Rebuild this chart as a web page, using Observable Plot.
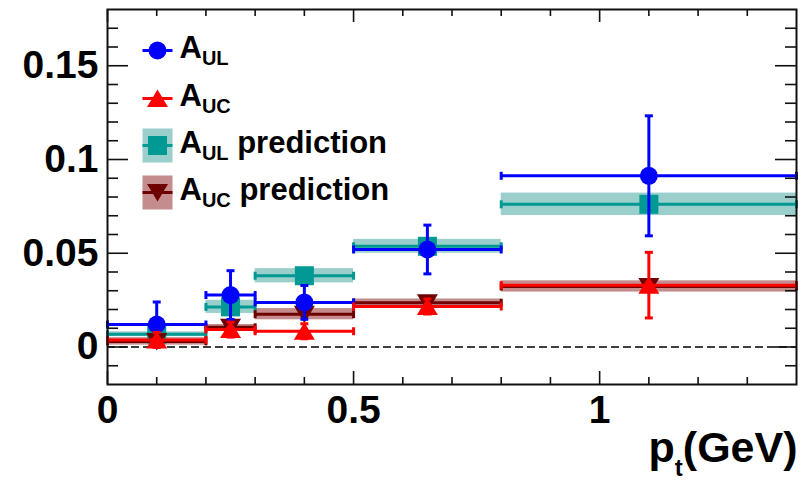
<!DOCTYPE html>
<html><head><meta charset="utf-8">
<script src="https://cdn.jsdelivr.net/npm/d3@7"></script>
<script src="https://cdn.jsdelivr.net/npm/@observablehq/plot@0.6"></script>
<style>html,body{margin:0;padding:0;background:#fff;} #chart svg{display:block}</style>
</head><body><div id="chart"></div>
<script>
// ---- data ----
const binLow    = [0, 0.2, 0.3, 0.5, 0.8];
const binHigh   = [0.2, 0.3, 0.5, 0.8, 1.4];
const binCenter = [0.1, 0.25, 0.4, 0.65, 1.1];
const aUL       = [0.012, 0.0277, 0.0238, 0.052, 0.0913];
const aULErr    = [0.012, 0.013, 0.009, 0.013, 0.032];
const aUC       = [0.0038, 0.0093, 0.0084, 0.0216, 0.033];
const aUCErr    = [0.004, 0.004, 0.004, 0.004, 0.0175];
const aULPred    = [0.0068, 0.0214, 0.038, 0.0537, 0.0761];
const aULPredErr = [0.0013, 0.0035, 0.0038, 0.0037, 0.006];
const aUCPred    = [0.003, 0.0105, 0.0175, 0.0236, 0.0323];
const aUCPredErr = [0.002, 0.0015, 0.003, 0.002, 0.003];
const legendLabels = ["A_UL", "A_UC", "A_UL prediction", "A_UC prediction"];
const xTitle = "p_t(GeV)";
const xMajorTicks = [0, 0.5, 1];
const xMinorTicks = [0.1, 0.2, 0.3, 0.4, 0.6, 0.7, 0.8, 0.9, 1.1, 1.2, 1.3];
const yMajorTicks = [0, 0.05, 0.1, 0.15];
const yMinorTicks = [-0.01, 0.01, 0.02, 0.03, 0.04, 0.06, 0.07, 0.08, 0.09, 0.11, 0.12, 0.13, 0.14, 0.16, 0.17];

const bins = binCenter.map((x, i) => ({
  x, lo: binLow[i], hi: binHigh[i],
  ul: aUL[i], ulE: aULErr[i], uc: aUC[i], ucE: aUCErr[i],
  ulp: aULPred[i], ulpE: aULPredErr[i], ucp: aUCPred[i], ucpE: aUCPredErr[i]
}));

// ---- styling ----
const W = 809, H = 482, mL = 107, mR = 13, mT = 9, mB = 98;
const fw = W - mL - mR, fh = H - mT - mB;
const BLUE = "#0000ff", RED = "#ff0000", TEAL = "#009993", TEAL_BAND = "#9acfcc",
      DRED = "#6e0000", DRED_BAND = "#c48c8c", AX = "#111";

const capV = {draw(c){ c.moveTo(0,-4); c.lineTo(0,4); }};
const capH = {draw(c){ c.moveTo(-4,0); c.lineTo(4,0); }};
const legLine = {draw(c){ c.moveTo(-15,0); c.lineTo(15,0); }};
const legBox = {draw(c){ c.rect(-15,-17,30,34); }};
const sq = {draw(c){ c.rect(-9.5,-9.5,19,19); }};
const circ = {draw(c){ c.moveTo(9,0); c.arc(0,0,9,0,2*Math.PI); }};
const triUp = {draw(c){ c.moveTo(0,-9); c.lineTo(10.5,8.5); c.lineTo(-10.5,8.5); c.closePath(); }};
const triDown = {draw(c){ c.moveTo(0,9); c.lineTo(10.5,-8.5); c.lineTo(-10.5,-8.5); c.closePath(); }};

function predBand(yk, ek, band) {
  return Plot.rect(bins, {x1: "lo", x2: "hi", y1: d => d[yk] - d[ek], y2: d => d[yk] + d[ek], fill: band});
}
function predLine(yk, line, symbol) {
  return [
    Plot.ruleY(bins, {y: yk, x1: "lo", x2: "hi", stroke: line, strokeWidth: 3}),
    Plot.dot(bins, {x: "lo", y: yk, symbol: capV, stroke: line, strokeWidth: 3, fill: "none"}),
    Plot.dot(bins, {x: "hi", y: yk, symbol: capV, stroke: line, strokeWidth: 3, fill: "none"}),
    Plot.dot(bins, {x: "x", y: yk, symbol, fill: line, stroke: "none"})
  ];
}
function dataMarks(yk, ek, color, symbol) {
  return [
    Plot.ruleY(bins, {y: yk, x1: "lo", x2: "hi", stroke: color, strokeWidth: 3}),
    Plot.dot(bins, {x: "lo", y: yk, symbol: capV, stroke: color, strokeWidth: 3, fill: "none"}),
    Plot.dot(bins, {x: "hi", y: yk, symbol: capV, stroke: color, strokeWidth: 3, fill: "none"}),
    Plot.ruleX(bins, {x: "x", y1: d => d[yk] - d[ek], y2: d => d[yk] + d[ek], stroke: color, strokeWidth: 3}),
    Plot.dot(bins, {x: "x", y: d => d[yk] - d[ek], symbol: capH, stroke: color, strokeWidth: 3, fill: "none"}),
    Plot.dot(bins, {x: "x", y: d => d[yk] + d[ek], symbol: capH, stroke: color, strokeWidth: 3, fill: "none"}),
    Plot.dot(bins, {x: "x", y: yk, symbol, fill: color, stroke: "none"})
  ];
}

const legX = 50;                  // marker centre offset from frame left
const legY = [41, 89, 136, 183];  // marker centre offsets from frame top

const chart = Plot.plot({
  width: W, height: H,
  marginLeft: mL, marginRight: mR, marginTop: mT, marginBottom: mB,
  style: {fontFamily: "'Liberation Sans', Arial, sans-serif", background: "#fff", color: "#000"},
  x: {domain: [0, 1.4], label: null},
  y: {domain: [-0.02, 0.18], label: null},
  marks: [
    predBand("ulp", "ulpE", TEAL_BAND),
    predBand("ucp", "ucpE", DRED_BAND),
    ...predLine("ulp", TEAL, sq),
    ...predLine("ucp", DRED, triDown),
    Plot.ruleY([0], {stroke: "#000", strokeWidth: 1.5, strokeDasharray: "8,4"}),
    ...dataMarks("ul", "ulE", BLUE, circ),
    ...dataMarks("uc", "ucE", RED, triUp),
    // frame and inward ticks
    Plot.frame({stroke: AX, strokeWidth: 2}),
    Plot.tickX(xMinorTicks, {x: d => d, insetTop: fh - 7, stroke: AX, strokeWidth: 1.6}),
    Plot.tickX(xMajorTicks, {x: d => d, insetTop: fh - 13, stroke: AX, strokeWidth: 1.6}),
    Plot.tickX(xMinorTicks, {x: d => d, insetBottom: fh - 7, stroke: AX, strokeWidth: 1.6}),
    Plot.tickX(xMajorTicks, {x: d => d, insetBottom: fh - 13, stroke: AX, strokeWidth: 1.6}),
    Plot.tickY(yMinorTicks, {y: d => d, insetRight: fw - 11, stroke: AX, strokeWidth: 1.6}),
    Plot.tickY(yMajorTicks, {y: d => d, insetRight: fw - 21, stroke: AX, strokeWidth: 1.6}),
    Plot.tickY(yMinorTicks, {y: d => d, insetLeft: fw - 11, stroke: AX, strokeWidth: 1.6}),
    Plot.tickY(yMajorTicks, {y: d => d, insetLeft: fw - 21, stroke: AX, strokeWidth: 1.6}),
    // tick labels
    Plot.axisX(xMajorTicks, {tickSize: 0, tickPadding: 11, tickFormat: d => String(d), fontSize: 39, fontWeight: "bold", label: null, fill: "#000"}),
    Plot.axisY(yMajorTicks, {tickSize: 0, tickPadding: 9, tickFormat: d => String(d), fontSize: 39, fontWeight: "bold", label: null, fill: "#000"}),
    // axis title
    Plot.text([xTitle], {frameAnchor: "bottom-right", textAnchor: "end", lineAnchor: "bottom", dy: 77, dx: 1, text: d => d, fontSize: 43, fontWeight: "bold", fill: "#000"}),
    // legend
    Plot.dot([0], {frameAnchor: "top-left", dx: legX, dy: legY[2], symbol: legBox, fill: TEAL_BAND, stroke: "none"}),
    Plot.dot([0], {frameAnchor: "top-left", dx: legX, dy: legY[3], symbol: legBox, fill: DRED_BAND, stroke: "none"}),
    Plot.dot([0], {frameAnchor: "top-left", dx: legX, dy: legY[0], symbol: legLine, stroke: BLUE, strokeWidth: 3, fill: "none"}),
    Plot.dot([0], {frameAnchor: "top-left", dx: legX, dy: legY[1], symbol: legLine, stroke: RED, strokeWidth: 3, fill: "none"}),
    Plot.dot([0], {frameAnchor: "top-left", dx: legX, dy: legY[2], symbol: legLine, stroke: TEAL, strokeWidth: 3, fill: "none"}),
    Plot.dot([0], {frameAnchor: "top-left", dx: legX, dy: legY[3], symbol: legLine, stroke: DRED, strokeWidth: 3, fill: "none"}),
    Plot.dot([0], {frameAnchor: "top-left", dx: legX, dy: legY[0], symbol: circ, fill: BLUE, stroke: "none"}),
    Plot.dot([0], {frameAnchor: "top-left", dx: legX, dy: legY[1], symbol: triUp, fill: RED, stroke: "none"}),
    Plot.dot([0], {frameAnchor: "top-left", dx: legX, dy: legY[2], symbol: sq, fill: TEAL, stroke: "none"}),
    Plot.dot([0], {frameAnchor: "top-left", dx: legX, dy: legY[3], symbol: triDown, fill: DRED, stroke: "none"}),
    ...legendLabels.map((t, i) => Plot.text([t], {frameAnchor: "top-left", textAnchor: "start", lineAnchor: "bottom",
      dx: 72, dy: legY[i] + 7, text: d => d, fontSize: 31, fontWeight: "bold", fill: "#000"}))
  ]
});

// turn "X_sub rest" into real subscripted SVG text
d3.select(chart).selectAll("text").each(function() {
  const t = d3.select(this);
  if (t.selectAll("tspan").size() > 0) return;
  const s = t.text();
  const m = s.match(/^([^_]*)_([^ (]+)(.*)$/);
  if (!m) return;
  const isTitle = s === xTitle;
  const mainSize = isTitle ? 43 : 31, subSize = isTitle ? 24 : 20, shift = isTitle ? 14 : 7;
  t.text(null).style("white-space", "pre");
  t.append("tspan").text(m[1]);
  t.append("tspan").attr("font-size", subSize).attr("dy", shift).text(m[2]);
  if (m[3]) t.append("tspan").attr("font-size", mainSize).attr("dy", -shift).text(m[3]);
});
document.getElementById("chart").appendChild(chart);
</script>
</body></html>
